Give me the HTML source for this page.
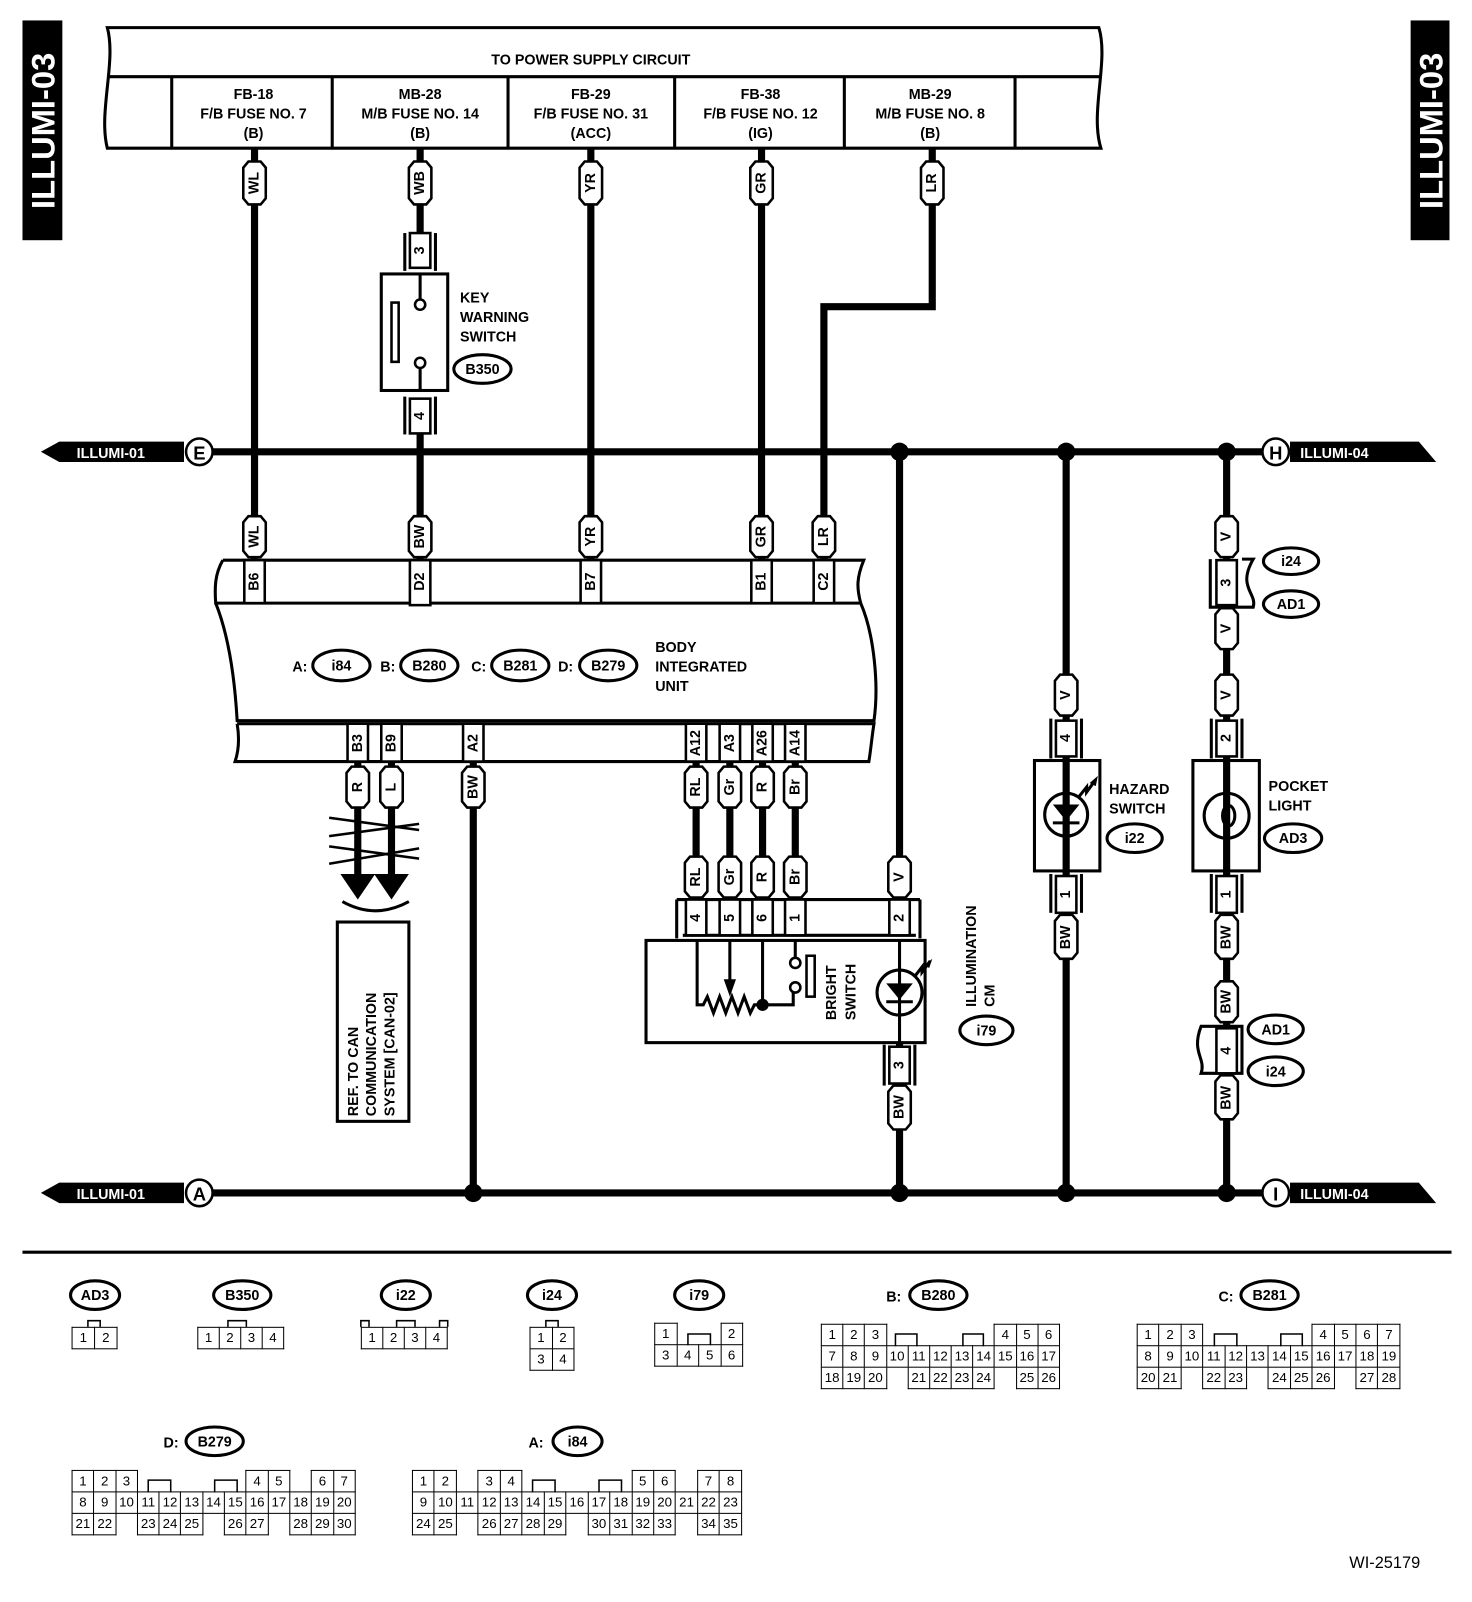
<!DOCTYPE html>
<html><head><meta charset="utf-8"><style>
body{margin:0;background:#fff;width:1472px;height:1602px;overflow:hidden}
#w{position:absolute;left:0;top:0;width:1440px;height:1567px;transform:scale(1.0222);transform-origin:0 0}
svg{position:absolute;left:0;top:0}
text{font-family:"Liberation Sans",sans-serif;font-weight:bold;font-size:14px;fill:#000}
.r{text-anchor:middle;dominant-baseline:central}
.c{text-anchor:middle}
.o{fill:none;stroke:#000;stroke-width:3}
.p{fill:#fff;stroke:#000;stroke-width:2.5}
.wr{stroke:#000;stroke-width:7;fill:none}
table.g{position:absolute;border-collapse:collapse;table-layout:fixed;font-family:"Liberation Sans",sans-serif;font-size:13px}
table.g td{border:1.5px solid #000;height:20px;padding:0;text-align:center;line-height:20px;overflow:hidden}
table.g td.e{border:none}
</style></head><body><div id="w">
<svg width="1440" height="1567" viewBox="0 0 1440 1567">
<rect x="22" y="20" width="39" height="215" fill="#000"/>
<text transform="translate(42,128) rotate(-90)" class="r" style="fill:#fff;font-size:32px">ILLUMI-03</text>
<rect x="1380" y="20" width="38" height="215" fill="#000"/>
<text transform="translate(1400,128) rotate(-90)" class="r" style="fill:#fff;font-size:32px">ILLUMI-03</text>

<path class="o" d="M105,27 L1075,27 C1085,60 1066,110 1077,145 L105,145 C96,110 114,60 105,27 Z"/>
<line class="o" x1="105" y1="75" x2="1076" y2="75"/>
<g class="o"><line x1="168" y1="75" x2="168" y2="145"/><line x1="325" y1="75" x2="325" y2="145"/><line x1="497" y1="75" x2="497" y2="145"/><line x1="660" y1="75" x2="660" y2="145"/><line x1="826" y1="75" x2="826" y2="145"/><line x1="993" y1="75" x2="993" y2="145"/></g>
<text x="578" y="63" class="c">TO POWER SUPPLY CIRCUIT</text>
<g class="c"><text x="248" y="97" class="c">FB-18</text><text x="248" y="116" class="c">F/B FUSE NO. 7</text><text x="248" y="135" class="c">(B)</text>
<text x="411" y="97" class="c">MB-28</text><text x="411" y="116" class="c">M/B FUSE NO. 14</text><text x="411" y="135" class="c">(B)</text>
<text x="578" y="97" class="c">FB-29</text><text x="578" y="116" class="c">F/B FUSE NO. 31</text><text x="578" y="135" class="c">(ACC)</text>
<text x="744" y="97" class="c">FB-38</text><text x="744" y="116" class="c">F/B FUSE NO. 12</text><text x="744" y="135" class="c">(IG)</text>
<text x="910" y="97" class="c">MB-29</text><text x="910" y="116" class="c">M/B FUSE NO. 8</text><text x="910" y="135" class="c">(B)</text></g>

<g class="wr">
<line x1="249" y1="145" x2="249" y2="548"/>
<line x1="411" y1="145" x2="411" y2="230"/><line x1="411" y1="423" x2="411" y2="548"/>
<line x1="578" y1="145" x2="578" y2="548"/>
<line x1="745" y1="145" x2="745" y2="548"/>
<polyline points="912,145 912,300 806,300 806,548"/>
<line x1="208" y1="442" x2="1236" y2="442"/>
<line x1="208" y1="1167" x2="1236" y2="1167"/>
<line x1="880" y1="442" x2="880" y2="880"/>
<line x1="1043" y1="442" x2="1043" y2="1167"/>
<line x1="1200" y1="442" x2="1200" y2="1167"/>
<line x1="463" y1="745" x2="463" y2="1167"/>
<line x1="880" y1="1020" x2="880" y2="1167"/>
<line x1="350" y1="745" x2="350" y2="858"/><line x1="383" y1="745" x2="383" y2="858"/>
<line x1="681" y1="745" x2="681" y2="880"/><line x1="714" y1="745" x2="714" y2="880"/><line x1="746" y1="745" x2="746" y2="880"/><line x1="778" y1="745" x2="778" y2="880"/>
</g>
<g fill="#000"><circle cx="880" cy="442" r="9"/><circle cx="1043" cy="442" r="9"/><circle cx="1200" cy="442" r="9"/>
<circle cx="463" cy="1167" r="9"/><circle cx="880" cy="1167" r="9"/><circle cx="1043" cy="1167" r="9"/><circle cx="1200" cy="1167" r="9"/></g>

<polygon points="40,442 58,432 180,432 180,452 58,452" fill="#000"/>
<text x="75" y="448" style="fill:#fff;font-size:14px">ILLUMI-01</text>
<circle cx="195" cy="442" r="13" class="p" stroke-width="3"/><text x="195" y="443" class="r" style="font-size:18px">E</text>
<polygon points="1262,432 1388,432 1405,452 1262,452" fill="#000"/>
<text x="1272" y="448" style="fill:#fff;font-size:14px">ILLUMI-04</text>
<circle cx="1248" cy="442" r="13" class="p" stroke-width="3"/><text x="1248" y="443" class="r" style="font-size:18px">H</text>
<polygon points="40,1167 58,1157 180,1157 180,1177 58,1177" fill="#000"/>
<text x="75" y="1173" style="fill:#fff;font-size:14px">ILLUMI-01</text>
<circle cx="195" cy="1167" r="13" class="p" stroke-width="3"/><text x="195" y="1168" class="r" style="font-size:18px">A</text>
<polygon points="1262,1157 1388,1157 1405,1177 1262,1177" fill="#000"/>
<text x="1272" y="1173" style="fill:#fff;font-size:14px">ILLUMI-04</text>
<circle cx="1248" cy="1167" r="13" class="p" stroke-width="3"/><text x="1248" y="1168" class="r" style="font-size:18px">I</text>

<g class="o"><line x1="396" y1="228" x2="396" y2="265"/><line x1="426" y1="228" x2="426" y2="265"/><line x1="396" y1="388" x2="396" y2="425"/><line x1="426" y1="388" x2="426" y2="425"/></g>
<rect x="401" y="228" width="20" height="34" class="p"/><text transform="translate(411,245) rotate(-90)" class="r">3</text>
<rect x="401" y="390" width="20" height="34" class="p"/><text transform="translate(411,407) rotate(-90)" class="r">4</text>
<rect x="373" y="268" width="65" height="114" class="o"/>
<line class="o" x1="411" y1="268" x2="411" y2="293"/><circle cx="411" cy="298" r="5" class="p"/>
<circle cx="411" cy="355" r="5" class="p"/><line class="o" x1="411" y1="360" x2="411" y2="382"/>
<rect x="383" y="296" width="7" height="58" class="p" stroke-width="2"/>
<text x="450" y="296">KEY</text><text x="450" y="315">WARNING</text><text x="450" y="334">SWITCH</text>
<ellipse cx="472" cy="361" rx="28" ry="14" class="o"/><text x="472" y="362" class="r">B350</text>

<g class="p">
<polygon points="238,164 243,158 255,158 260,164 260,194 255,200 243,200 238,194"/>
<polygon points="400,164 405,158 417,158 422,164 422,194 417,200 405,200 400,194"/>
<polygon points="567,164 572,158 584,158 589,164 589,194 584,200 572,200 567,194"/>
<polygon points="734,164 739,158 751,158 756,164 756,194 751,200 739,200 734,194"/>
<polygon points="901,164 906,158 918,158 923,164 923,194 918,200 906,200 901,194"/>
<polygon points="238,511 243,505 255,505 260,511 260,539 255,545 243,545 238,539"/>
<polygon points="400,511 405,505 417,505 422,511 422,539 417,545 405,545 400,539"/>
<polygon points="567,511 572,505 584,505 589,511 589,539 584,545 572,545 567,539"/>
<polygon points="734,511 739,505 751,505 756,511 756,539 751,545 739,545 734,539"/>
<polygon points="795,511 800,505 812,505 817,511 817,539 812,545 800,545 795,539"/>
</g>
<text transform="translate(249,179) rotate(-90)" class="r">WL</text>
<text transform="translate(411,179) rotate(-90)" class="r">WB</text>
<text transform="translate(578,179) rotate(-90)" class="r">YR</text>
<text transform="translate(745,179) rotate(-90)" class="r">GR</text>
<text transform="translate(912,179) rotate(-90)" class="r">LR</text>
<text transform="translate(249,525) rotate(-90)" class="r">WL</text>
<text transform="translate(411,525) rotate(-90)" class="r">BW</text>
<text transform="translate(578,525) rotate(-90)" class="r">YR</text>
<text transform="translate(745,525) rotate(-90)" class="r">GR</text>
<text transform="translate(806,525) rotate(-90)" class="r">LR</text>

<path class="o" d="M218,548 L845,548 C838,565 838,575 842,590"/>
<path class="o" d="M218,548 C210,562 210,575 211,590 L842,590"/>
<path class="o" d="M211,590 C225,625 230,670 232,705 L855,705 C860,670 855,620 842,590"/>
<path class="o" d="M232,708 L855,708 C853,720 852,733 850,745 L230,745 C234,733 234,720 232,708"/>
<g class="p">
<rect x="239" y="548" width="20" height="42"/><rect x="401" y="548" width="20" height="44"/><rect x="568" y="548" width="20" height="42"/><rect x="735" y="548" width="20" height="42"/><rect x="796" y="548" width="20" height="42"/>
<rect x="340" y="708" width="20" height="37"/><rect x="373" y="708" width="20" height="37"/><rect x="453" y="708" width="20" height="37"/><rect x="671" y="708" width="20" height="37"/><rect x="704" y="708" width="20" height="37"/><rect x="736" y="708" width="20" height="37"/><rect x="768" y="708" width="20" height="37"/>
</g>
<text transform="translate(249,569) rotate(-90)" class="r">B6</text>
<text transform="translate(411,569) rotate(-90)" class="r">D2</text>
<text transform="translate(578,569) rotate(-90)" class="r">B7</text>
<text transform="translate(745,569) rotate(-90)" class="r">B1</text>
<text transform="translate(806,569) rotate(-90)" class="r">C2</text>
<text transform="translate(350,727) rotate(-90)" class="r">B3</text>
<text transform="translate(383,727) rotate(-90)" class="r">B9</text>
<text transform="translate(463,727) rotate(-90)" class="r">A2</text>
<text transform="translate(681,727) rotate(-90)" class="r">A12</text>
<text transform="translate(714,727) rotate(-90)" class="r">A3</text>
<text transform="translate(746,727) rotate(-90)" class="r">A26</text>
<text transform="translate(778,727) rotate(-90)" class="r">A14</text>
<text x="286" y="657">A:</text><ellipse cx="334" cy="651" rx="28" ry="15" class="o"/><text x="334" y="652" class="r">i84</text>
<text x="372" y="657">B:</text><ellipse cx="420" cy="651" rx="28" ry="15" class="o"/><text x="420" y="652" class="r">B280</text>
<text x="461" y="657">C:</text><ellipse cx="509" cy="651" rx="28" ry="15" class="o"/><text x="509" y="652" class="r">B281</text>
<text x="546" y="657">D:</text><ellipse cx="595" cy="651" rx="28" ry="15" class="o"/><text x="595" y="652" class="r">B279</text>
<text x="641" y="638">BODY</text><text x="641" y="657">INTEGRATED</text><text x="641" y="676">UNIT</text>

<g class="p">
<polygon points="339,756 344,750 356,750 361,756 361,784 356,790 344,790 339,784"/>
<polygon points="372,756 377,750 389,750 394,756 394,784 389,790 377,790 372,784"/>
<polygon points="452,756 457,750 469,750 474,756 474,784 469,790 457,790 452,784"/>
<polygon points="670,756 675,750 687,750 692,756 692,784 687,790 675,790 670,784"/>
<polygon points="703,756 708,750 720,750 725,756 725,784 720,790 708,790 703,784"/>
<polygon points="735,756 740,750 752,750 757,756 757,784 752,790 740,790 735,784"/>
<polygon points="767,756 772,750 784,750 789,756 789,784 784,790 772,790 767,784"/>
<polygon points="670,844 675,838 687,838 692,844 692,872 687,878 675,878 670,872"/>
<polygon points="703,844 708,838 720,838 725,844 725,872 720,878 708,878 703,872"/>
<polygon points="735,844 740,838 752,838 757,844 757,872 752,878 740,878 735,872"/>
<polygon points="767,844 772,838 784,838 789,844 789,872 784,878 772,878 767,872"/>
<polygon points="869,844 874,838 886,838 891,844 891,872 886,878 874,878 869,872"/>
<polygon points="869,1068 874,1062 886,1062 891,1068 891,1099 886,1105 874,1105 869,1099"/>
</g>
<text transform="translate(350,770) rotate(-90)" class="r">R</text>
<text transform="translate(383,770) rotate(-90)" class="r">L</text>
<text transform="translate(463,770) rotate(-90)" class="r">BW</text>
<text transform="translate(681,770) rotate(-90)" class="r">RL</text>
<text transform="translate(714,770) rotate(-90)" class="r">Gr</text>
<text transform="translate(746,770) rotate(-90)" class="r">R</text>
<text transform="translate(778,770) rotate(-90)" class="r">Br</text>
<text transform="translate(681,858) rotate(-90)" class="r">RL</text>
<text transform="translate(714,858) rotate(-90)" class="r">Gr</text>
<text transform="translate(746,858) rotate(-90)" class="r">R</text>
<text transform="translate(778,858) rotate(-90)" class="r">Br</text>
<text transform="translate(880,858) rotate(-90)" class="r">V</text>
<text transform="translate(880,1083) rotate(-90)" class="r">BW</text>

<g stroke="#000" stroke-width="2.5"><line x1="322" y1="800" x2="410" y2="812"/><line x1="322" y1="818" x2="410" y2="806"/><line x1="322" y1="828" x2="410" y2="840"/><line x1="322" y1="845" x2="410" y2="830"/></g>
<polygon points="333,855 367,855 350,880" fill="#000"/><polygon points="366,855 400,855 383,880" fill="#000"/>
<path class="o" d="M335,882 Q367,900 400,882"/>
<rect x="330" y="902" width="70" height="195" class="o"/>
<text transform="translate(350,1092) rotate(-90)">REF. TO CAN</text>
<text transform="translate(368,1092) rotate(-90)">COMMUNICATION</text>
<text transform="translate(386,1092) rotate(-90)">SYSTEM [CAN-02]</text>

<path class="o" d="M662,880 L900,880 M662,880 L662,918 M900,880 L900,918 M668,915 L896,915"/>
<g class="p"><rect x="671" y="880" width="20" height="35"/><rect x="704" y="880" width="20" height="35"/><rect x="736" y="880" width="20" height="35"/><rect x="768" y="880" width="20" height="35"/><rect x="870" y="880" width="20" height="35"/></g>
<text transform="translate(681,898) rotate(-90)" class="r">4</text>
<text transform="translate(714,898) rotate(-90)" class="r">5</text>
<text transform="translate(746,898) rotate(-90)" class="r">6</text>
<text transform="translate(778,898) rotate(-90)" class="r">1</text>
<text transform="translate(880,898) rotate(-90)" class="r">2</text>
<rect x="632" y="920" width="273" height="100" class="o"/>
<path class="o" d="M682,920 L682,983 L688,983 L692,975 L698,991 L704,975 L710,991 L716,975 L722,991 L728,975 L734,991 L738,983 L776,983 L776,970"/>
<line class="o" x1="714" y1="920" x2="714" y2="960"/><polygon points="708,958 720,958 714,975" fill="#000"/>
<line class="o" x1="746" y1="920" x2="746" y2="983"/><circle cx="746" cy="983" r="6" fill="#000"/>
<line class="o" x1="778" y1="920" x2="778" y2="937"/>
<circle cx="778" cy="942" r="5" class="p"/><circle cx="778" cy="966" r="5" class="p"/>
<rect x="789" y="935" width="8" height="40" class="p" stroke-width="2"/>
<text transform="translate(818,998) rotate(-90)">BRIGHT</text>
<text transform="translate(837,998) rotate(-90)">SWITCH</text>
<line class="o" x1="880" y1="920" x2="880" y2="1020"/>
<circle cx="880" cy="971" r="22" class="o"/>
<polygon points="867,962 893,962 880,978" fill="#000"/><line class="o" x1="867" y1="980" x2="893" y2="980"/>
<path class="o" d="M895,955 L902,946 L902,951 L910,940" stroke-width="2.5"/><polygon points="904,944 912,938 909,947" fill="#000"/>
<text transform="translate(955,985) rotate(-90)">ILLUMINATION</text>
<text transform="translate(973,985) rotate(-90)">CM</text>
<ellipse cx="965" cy="1008" rx="26" ry="14" class="o"/><text x="965" y="1009" class="r">i79</text>
<g class="o"><line x1="865" y1="1022" x2="865" y2="1062"/><line x1="895" y1="1022" x2="895" y2="1062"/></g>
<rect x="870" y="1024" width="20" height="36" class="p"/><text transform="translate(880,1042) rotate(-90)" class="r">3</text>

<g class="p">
<polygon points="1032,666 1037,660 1049,660 1054,666 1054,694 1049,700 1037,700 1032,694"/>
<polygon points="1032,901 1037,895 1049,895 1054,901 1054,932 1049,938 1037,938 1032,932"/>
<polygon points="1189,511 1194,505 1206,505 1211,511 1211,539 1206,545 1194,545 1189,539"/>
<polygon points="1189,601 1194,595 1206,595 1211,601 1211,629 1206,635 1194,635 1189,629"/>
<polygon points="1189,666 1194,660 1206,660 1211,666 1211,694 1206,700 1194,700 1189,694"/>
<polygon points="1189,901 1194,895 1206,895 1211,901 1211,932 1206,938 1194,938 1189,932"/>
<polygon points="1189,966 1194,960 1206,960 1211,966 1211,994 1206,1000 1194,1000 1189,994"/>
<polygon points="1189,1058 1194,1052 1206,1052 1211,1058 1211,1089 1206,1095 1194,1095 1189,1089"/>
</g>
<text transform="translate(1043,680) rotate(-90)" class="r">V</text>
<text transform="translate(1043,917) rotate(-90)" class="r">BW</text>
<text transform="translate(1200,525) rotate(-90)" class="r">V</text>
<text transform="translate(1200,615) rotate(-90)" class="r">V</text>
<text transform="translate(1200,680) rotate(-90)" class="r">V</text>
<text transform="translate(1200,917) rotate(-90)" class="r">BW</text>
<text transform="translate(1200,980) rotate(-90)" class="r">BW</text>
<text transform="translate(1200,1074) rotate(-90)" class="r">BW</text>
<g class="o"><line x1="1028" y1="703" x2="1028" y2="742"/><line x1="1058" y1="703" x2="1058" y2="742"/><line x1="1028" y1="855" x2="1028" y2="893"/><line x1="1058" y1="855" x2="1058" y2="893"/>
<line x1="1185" y1="703" x2="1185" y2="742"/><line x1="1215" y1="703" x2="1215" y2="742"/><line x1="1185" y1="855" x2="1185" y2="893"/><line x1="1215" y1="855" x2="1215" y2="893"/></g>
<g class="p"><rect x="1033" y="705" width="20" height="35"/><rect x="1033" y="857" width="20" height="36"/><rect x="1190" y="705" width="20" height="35"/><rect x="1190" y="857" width="20" height="36"/></g>
<text transform="translate(1043,722) rotate(-90)" class="r">4</text>
<text transform="translate(1043,875) rotate(-90)" class="r">1</text>
<text transform="translate(1200,722) rotate(-90)" class="r">2</text>
<text transform="translate(1200,875) rotate(-90)" class="r">1</text>
<rect x="1012" y="744" width="64" height="108" class="o"/>
<line class="o" x1="1043" y1="744" x2="1043" y2="852"/>
<circle cx="1043" cy="797" r="21" class="o"/>
<polygon points="1030,787 1056,787 1043,803" fill="#000"/><line class="o" x1="1030" y1="805" x2="1056" y2="805"/>
<path class="o" d="M1055,780 L1063,770 L1063,775 L1071,764" stroke-width="2.5"/><polygon points="1066,766 1074,759 1072,769" fill="#000"/>
<text x="1085" y="777">HAZARD</text><text x="1085" y="796">SWITCH</text>
<ellipse cx="1110" cy="820" rx="27" ry="14" class="o"/><text x="1110" y="821" class="r">i22</text>
<rect x="1167" y="744" width="65" height="108" class="o"/>
<line class="o" x1="1200" y1="744" x2="1200" y2="852"/>
<circle cx="1200" cy="798" r="22" class="o"/>
<ellipse cx="1202" cy="798" rx="6" ry="10" class="o"/>
<text x="1241" y="774">POCKET</text><text x="1241" y="793">LIGHT</text>
<ellipse cx="1265" cy="820" rx="28" ry="14" class="o"/><text x="1265" y="821" class="r">AD3</text>
<path class="o" d="M1184,547 L1184,594 L1226,594 C1230,580 1210,575 1226,547 L1215,547"/>
<rect x="1190" y="548" width="20" height="44" class="p"/><text transform="translate(1200,570) rotate(-90)" class="r">3</text>
<ellipse cx="1263" cy="549" rx="27" ry="13" class="o"/><text x="1263" y="550" class="r">i24</text>
<ellipse cx="1263" cy="591" rx="27" ry="13" class="o"/><text x="1263" y="592" class="r">AD1</text>
<path class="o" d="M1215,1004 L1215,1050 L1175,1050 C1180,1035 1165,1030 1175,1004 Z"/>
<rect x="1190" y="1006" width="20" height="44" class="p"/><text transform="translate(1200,1028) rotate(-90)" class="r">4</text>
<ellipse cx="1248" cy="1007" rx="27" ry="14" class="o"/><text x="1248" y="1008" class="r">AD1</text>
<ellipse cx="1248" cy="1048" rx="27" ry="14" class="o"/><text x="1248" y="1049" class="r">i24</text>

<line x1="22" y1="1225" x2="1420" y2="1225" stroke="#000" stroke-width="3"/>

<ellipse cx="93" cy="1267" rx="24" ry="14" class="o"/><text x="93" y="1268" class="r">AD3</text>
<ellipse cx="237" cy="1267" rx="28" ry="14" class="o"/><text x="237" y="1268" class="r">B350</text>
<ellipse cx="397" cy="1267" rx="24" ry="14" class="o"/><text x="397" y="1268" class="r">i22</text>
<ellipse cx="540" cy="1267" rx="24" ry="14" class="o"/><text x="540" y="1268" class="r">i24</text>
<ellipse cx="684" cy="1267" rx="24" ry="14" class="o"/><text x="684" y="1268" class="r">i79</text>
<text x="867" y="1273">B:</text><ellipse cx="918" cy="1267" rx="28" ry="14" class="o"/><text x="918" y="1268" class="r">B280</text>
<text x="1192" y="1273">C:</text><ellipse cx="1242" cy="1267" rx="28" ry="14" class="o"/><text x="1242" y="1268" class="r">B281</text>
<text x="160" y="1416">D:</text><ellipse cx="210" cy="1410" rx="28" ry="14" class="o"/><text x="210" y="1411" class="r">B279</text>
<text x="517" y="1416">A:</text><ellipse cx="565" cy="1410" rx="24" ry="14" class="o"/><text x="565" y="1411" class="r">i84</text>
<g fill="#fff" stroke="#000" stroke-width="1.5">
<path d="M86,1298 L86,1292 L98,1292 L98,1298"/>
<path d="M223,1298 L223,1292 L241,1292 L241,1298"/>
<path d="M353,1298 L353,1292 L361,1292 L361,1298 M388,1298 L388,1292 L406,1292 L406,1298 M430,1298 L430,1292 L438,1292 L438,1298"/>
<path d="M534,1298 L534,1292 L546,1292 L546,1298"/>
<path d="M673,1316 L673,1305 L695,1305 L695,1316"/>
<path d="M876,1317 L876,1305 L897,1305 L897,1317 M942,1317 L942,1305 L962,1305 L962,1317"/>
<path d="M1188,1317 L1188,1305 L1210,1305 L1210,1317 M1253,1317 L1253,1305 L1274,1305 L1274,1317"/>
<path d="M145,1460 L145,1448 L167,1448 L167,1460 M210,1460 L210,1448 L232,1448 L232,1460"/>
<path d="M521,1460 L521,1448 L543,1448 L543,1460 M586,1460 L586,1448 L608,1448 L608,1460"/>
</g>
<text x="1320" y="1534" style="font-weight:normal;font-size:16px">WI-25179</text>
</svg>

<table class="g" style="left:70px;top:1298px;width:45px"><tr><td>1</td><td>2</td></tr></table>
<table class="g" style="left:193px;top:1298px;width:85px"><tr><td>1</td><td>2</td><td>3</td><td>4</td></tr></table>
<table class="g" style="left:353px;top:1298px;width:85px"><tr><td>1</td><td>2</td><td>3</td><td>4</td></tr></table>
<table class="g" style="left:518px;top:1298px;width:44px"><tr><td>1</td><td>2</td></tr><tr><td>3</td><td>4</td></tr></table>
<table class="g" style="left:640px;top:1294px;width:87px"><tr><td>1</td><td class="e"></td><td class="e"></td><td>2</td></tr><tr><td>3</td><td>4</td><td>5</td><td>6</td></tr></table>
<table class="g" style="left:803px;top:1295px;width:234px"><tr><td>1</td><td>2</td><td>3</td><td class="e"></td><td class="e"></td><td class="e"></td><td class="e"></td><td class="e"></td><td>4</td><td>5</td><td>6</td></tr>
<tr><td>7</td><td>8</td><td>9</td><td>10</td><td>11</td><td>12</td><td>13</td><td>14</td><td>15</td><td>16</td><td>17</td></tr>
<tr><td>18</td><td>19</td><td>20</td><td class="e"></td><td>21</td><td>22</td><td>23</td><td>24</td><td class="e"></td><td>25</td><td>26</td></tr></table>
<table class="g" style="left:1112px;top:1295px;width:258px"><tr><td>1</td><td>2</td><td>3</td><td class="e"></td><td class="e"></td><td class="e"></td><td class="e"></td><td class="e"></td><td>4</td><td>5</td><td>6</td><td>7</td></tr>
<tr><td>8</td><td>9</td><td>10</td><td>11</td><td>12</td><td>13</td><td>14</td><td>15</td><td>16</td><td>17</td><td>18</td><td>19</td></tr>
<tr><td>20</td><td>21</td><td class="e"></td><td>22</td><td>23</td><td class="e"></td><td>24</td><td>25</td><td>26</td><td class="e"></td><td>27</td><td>28</td></tr></table>
<table class="g" style="left:70px;top:1438px;width:278px"><tr><td>1</td><td>2</td><td>3</td><td class="e"></td><td class="e"></td><td class="e"></td><td class="e"></td><td class="e"></td><td>4</td><td>5</td><td class="e"></td><td>6</td><td>7</td></tr>
<tr><td>8</td><td>9</td><td>10</td><td>11</td><td>12</td><td>13</td><td>14</td><td>15</td><td>16</td><td>17</td><td>18</td><td>19</td><td>20</td></tr>
<tr><td>21</td><td>22</td><td class="e"></td><td>23</td><td>24</td><td>25</td><td class="e"></td><td>26</td><td>27</td><td class="e"></td><td>28</td><td>29</td><td>30</td></tr></table>
<table class="g" style="left:403px;top:1438px;width:323px"><tr><td>1</td><td>2</td><td class="e"></td><td>3</td><td>4</td><td class="e"></td><td class="e"></td><td class="e"></td><td class="e"></td><td class="e"></td><td>5</td><td>6</td><td class="e"></td><td>7</td><td>8</td></tr>
<tr><td>9</td><td>10</td><td>11</td><td>12</td><td>13</td><td>14</td><td>15</td><td>16</td><td>17</td><td>18</td><td>19</td><td>20</td><td>21</td><td>22</td><td>23</td></tr>
<tr><td>24</td><td>25</td><td class="e"></td><td>26</td><td>27</td><td>28</td><td>29</td><td class="e"></td><td>30</td><td>31</td><td>32</td><td>33</td><td class="e"></td><td>34</td><td>35</td></tr></table>
</div></body></html>
